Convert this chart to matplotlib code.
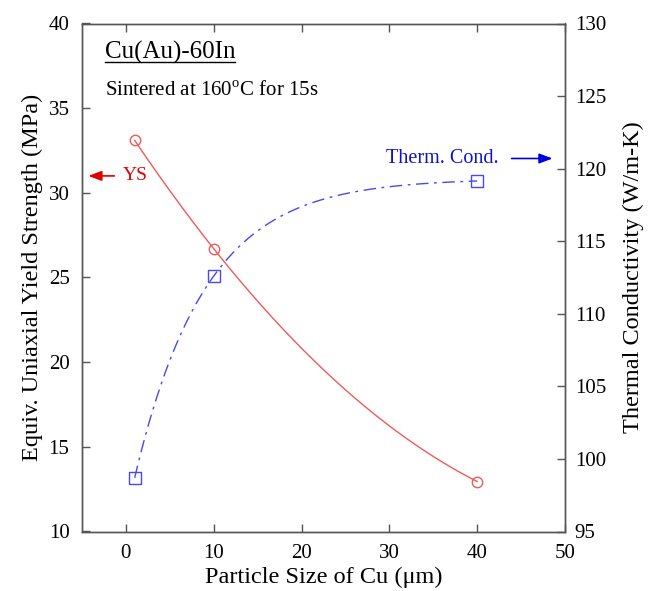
import matplotlib
matplotlib.use('Agg')
import matplotlib.pyplot as plt
from matplotlib.lines import Line2D
import numpy as np

# data
size_um = np.array([1, 10, 40])
yield_mpa = np.array([33.1, 26.7, 12.95])
therm_cond = np.array([98.7, 112.6, 119.15])

plt.rcParams['font.family'] = ['Liberation Serif', 'DejaVu Serif']
plt.rcParams['mathtext.fontset'] = 'custom'
plt.rcParams['mathtext.rm'] = 'Liberation Serif'

red_line = '#f05a5a'
blue_line = '#4848f0'
spine_col = '#555555'

fig = plt.figure(figsize=(6.52, 5.91), dpi=100)
ax = fig.add_axes([82/652, 1 - 531.5/591, (565 - 82)/652, (531.5 - 23.5)/591])
ax2 = ax.twinx()

# smooth trend for yield strength: quadratic through the points
p = np.polyfit(size_um, yield_mpa, 2)
xs = np.linspace(size_um.min(), size_um.max(), 200)
ax.plot(xs, np.polyval(p, xs), color=red_line, lw=1.0)
ax.plot(size_um, yield_mpa, 'o', mfc='none', mec=red_line, ms=7.5, mew=1.0)

# saturating trend for conductivity: A - B*exp(-x/tau), tau from grid search
best = None
for tau in np.linspace(2, 30, 2801):
    e = np.exp(-size_um / tau)
    M = np.column_stack([np.ones_like(e), -e])
    coef, res, *_ = np.linalg.lstsq(M, therm_cond, rcond=None)
    err = np.sum((M @ coef - therm_cond) ** 2)
    if best is None or err < best[0]:
        best = (err, tau, coef)
_, tau, (A, B) = best
ax2.plot(xs, A - B * np.exp(-xs / tau), color=blue_line, lw=1.0,
         linestyle=(0, (9, 4, 2, 4)))
ax2.plot(size_um, therm_cond, 's', mfc='none', mec=blue_line, ms=9, mew=1.0)

ax.set_xlim(-5, 50)
ax.set_ylim(10, 40)
ax2.set_ylim(95, 130)
ax.set_xticks(np.arange(0, 51, 10))
ax.set_yticks(np.arange(10, 41, 5))
ax2.set_yticks(np.arange(95, 131, 5))

for a in (ax, ax2):
    for s in a.spines.values():
        s.set_color(spine_col)
        s.set_linewidth(1.0)
ax.tick_params(axis='x', direction='in', top=True, length=6, width=1,
               color=spine_col, labelsize=15, pad=9)
ax.tick_params(axis='y', direction='in', right=False, length=6, width=1,
               color=spine_col, labelsize=15, pad=9)
ax2.tick_params(axis='y', direction='in', length=6, width=1,
                color=spine_col, labelsize=15, pad=7)

ax.set_xlabel('Particle Size of Cu (μm)', fontsize=17.5, labelpad=3)
ax.set_ylabel('Equiv. Uniaxial Yield Strength (MPa)', fontsize=17.5, labelpad=4)
ax2.set_ylabel('Thermal Conductivity (W/m-K)', fontsize=17.5, labelpad=12)

# annotations
t1 = ax.text(-2.4, 37.9, 'Cu(Au)-60In', fontsize=18, ha='left', va='baseline')
ax.text(-2.4, 35.7, r'Sintered at 160$^{\mathrm{o}}$C for 15s', fontsize=15,
        ha='left', va='baseline')

ax.annotate('', xy=(-4.6, 31.0), xytext=(-1.0, 31.0),
            arrowprops=dict(arrowstyle='-|>,head_length=0.8,head_width=0.3',
                            color='#e00000', lw=1.2))
ax.text(-0.4, 31.0, 'YS', color='#e00000', fontsize=14, ha='left', va='center')

ax2.text(29.6, 120.7, 'Therm. Cond.', color='#1010d0', fontsize=14.5,
         ha='left', va='center')
ax2.annotate('', xy=(48.9, 120.7), xytext=(43.6, 120.7),
             arrowprops=dict(arrowstyle='-|>,head_length=0.8,head_width=0.3',
                             color='#0000e0', lw=1.2))

# underline the alloy name just under its baseline
fig.canvas.draw()
bb = t1.get_window_extent()
W, H = fig.get_size_inches() * fig.dpi
base_y = ax.transData.transform((0, 37.9))[1]
yline = (base_y - 3) / H
fig.add_artist(Line2D([bb.x0 / W, bb.x1 / W], [yline, yline],
                      color='black', lw=1.0))

fig.savefig('out.png', dpi=100)
